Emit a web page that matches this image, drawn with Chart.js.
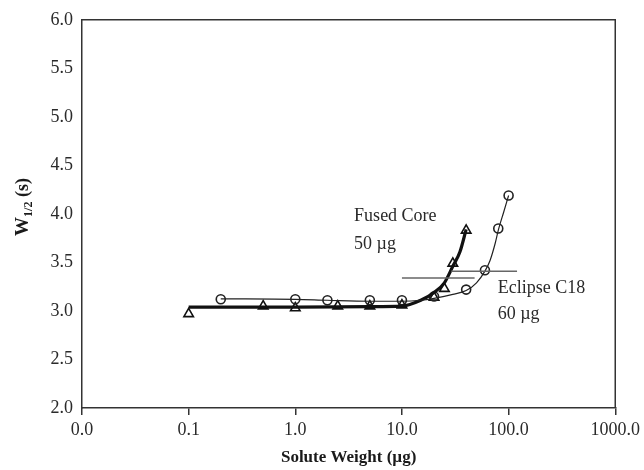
<!DOCTYPE html>
<html><head><meta charset="utf-8">
<script src="https://cdn.jsdelivr.net/npm/chart.js@4.4.1/dist/chart.umd.min.js"></script>
<style>html,body{margin:0;padding:0;background:#fff}#wrap{width:644px;height:470px}</style>
</head><body><div id="wrap"><canvas id="c" width="644" height="470"></canvas></div>
<script>
// ---- data ----
const xTickValues = [0.01, 0.1, 1, 10, 100, 1000];
const yMin = 2, yMax = 6, yStep = 0.5;

const eclipseX = [0.2, 1, 2, 5, 10, 20, 40, 60, 80, 100];
const eclipseY = [3.12, 3.12, 3.11, 3.11, 3.11, 3.15, 3.22, 3.42, 3.85, 4.19];

const fusedX = [0.1, 0.5, 1, 2.5, 5, 10, 20, 25, 30, 40];
const fusedY = [2.97, 3.05, 3.03, 3.05, 3.05, 3.06, 3.14, 3.23, 3.49, 3.83];

const eclipseFitX = [0.2, 1, 2, 5, 10, 15, 20, 30, 40, 50, 60, 67, 75, 80, 90, 100];
const eclipseFitY = [3.125, 3.12, 3.11, 3.10, 3.10, 3.11, 3.13, 3.17, 3.21, 3.29, 3.41, 3.52, 3.70, 3.83, 4.02, 4.19];

const fusedFitX = [0.1, 1, 5, 10, 15, 20, 25, 30, 35, 40];
const fusedFitY = [3.04, 3.04, 3.045, 3.05, 3.11, 3.19, 3.29, 3.46, 3.61, 3.84];

const limitFusedX = [10, 48];   const limitFusedY = [3.34, 3.34];
const limitEclipseX = [29, 120]; const limitEclipseY = [3.41, 3.41];

const annotations = [
  { text: 'Fused Core', x: 3.56, y: 3.98 },
  { text: '50 \u00b5g',  x: 3.56, y: 3.69 },
  { text: 'Eclipse C18', x: 79, y: 3.23 },
  { text: '60 \u00b5g',  x: 79, y: 2.97 }
];
const xTitle = 'Solute Weight (\u00b5g)';
const yTitleMain = 'W', yTitleSub = '1/2', yTitleRest = ' (s)';

// ---- build ----
const pts = (xs, ys) => xs.map((x, i) => ({ x: x, y: ys[i] }));
const FONT = '"Liberation Serif", "Times New Roman", serif';
const INK = '#2a2a2a';

const boxPlugin = {
  id: 'boxAndText',
  afterDraw(chart) {
    const { ctx, chartArea: a, scales } = chart;
    ctx.save();
    ctx.strokeStyle = '#333'; ctx.lineWidth = 1.5;
    ctx.beginPath();
    ctx.moveTo(a.left, a.top); ctx.lineTo(a.right, a.top); ctx.lineTo(a.right, a.bottom);
    ctx.stroke();
    // annotations
    ctx.fillStyle = INK; ctx.font = '18px ' + FONT;
    ctx.textAlign = 'left'; ctx.textBaseline = 'middle';
    annotations.forEach(t => {
      ctx.fillText(t.text, scales.x.getPixelForValue(t.x), scales.y.getPixelForValue(t.y));
    });
    // x title
    ctx.fillStyle = '#1a1a1a';
    ctx.font = 'bold 17px ' + FONT; ctx.textAlign = 'center';
    ctx.fillText(xTitle, (a.left + a.right) / 2, 458);
    // y title rotated
    ctx.translate(22, 207); ctx.rotate(-Math.PI / 2);
    ctx.font = 'bold 19px ' + FONT;
    const w1 = ctx.measureText(yTitleMain).width;
    ctx.font = 'bold 12px ' + FONT;
    const w2 = ctx.measureText(yTitleSub).width;
    ctx.font = 'bold 18px ' + FONT;
    const w3 = ctx.measureText(yTitleRest).width;
    let x0 = -(w1 + w2 + w3) / 2;
    ctx.textAlign = 'left'; ctx.textBaseline = 'alphabetic';
    ctx.font = 'bold 19px ' + FONT; ctx.fillText(yTitleMain, x0, 6);
    ctx.font = 'bold 12px ' + FONT; ctx.fillText(yTitleSub, x0 + w1, 10);
    ctx.font = 'bold 18px ' + FONT; ctx.fillText(yTitleRest, x0 + w1 + w2, 6);
    ctx.restore();
  }
};

new Chart(document.getElementById('c'), {
  type: 'scatter',
  data: {
    datasets: [
      { data: pts(limitFusedX, limitFusedY), showLine: true, borderColor: '#666', borderWidth: 1.5, pointRadius: 0 },
      { data: pts(limitEclipseX, limitEclipseY), showLine: true, borderColor: '#666', borderWidth: 1.5, pointRadius: 0 },
      { data: pts(eclipseFitX, eclipseFitY), showLine: true, borderColor: '#222', borderWidth: 1.2, pointRadius: 0, cubicInterpolationMode: 'monotone' },
      { data: pts(fusedFitX, fusedFitY), showLine: true, borderColor: '#111', borderWidth: 3.2, pointRadius: 0, cubicInterpolationMode: 'monotone' },
      { data: pts(eclipseX, eclipseY), showLine: false, pointStyle: 'circle', pointRadius: 4.5, borderColor: '#222', borderWidth: 1.6, backgroundColor: 'rgba(255,255,255,0)' },
      { data: pts(fusedX, fusedY), showLine: false, pointStyle: 'triangle', pointRadius: 5.5, borderColor: '#111', borderWidth: 1.6, backgroundColor: 'rgba(255,255,255,0)' }
    ]
  },
  options: {
    responsive: false, devicePixelRatio: 1, animation: false,
    layout: { padding: { top: 19, right: 27, left: 0, bottom: 0 } },
    plugins: { legend: { display: false }, tooltip: { enabled: false } },
    scales: {
      x: {
        type: 'logarithmic', min: 0.01, max: 1000,
        afterBuildTicks: s => { s.ticks = xTickValues.map(v => ({ value: v })); },
        afterFit: s => { s.height = 62; },
        ticks: { callback: v => Number(v).toFixed(1), font: { family: FONT, size: 18 }, color: INK, maxRotation: 0, autoSkip: false, padding: 4 },
        grid: { drawOnChartArea: false, drawTicks: true, tickLength: 7, color: '#333', lineWidth: 1.5 },
        border: { color: '#333', width: 1.5 }
      },
      y: {
        min: yMin, max: yMax,
        afterFit: s => { s.width = 82; },
        ticks: { stepSize: yStep, callback: v => Number(v).toFixed(1), font: { family: FONT, size: 18 }, color: INK, padding: 9 },
        grid: { drawOnChartArea: false, drawTicks: false },
        border: { color: '#333', width: 1.5 }
      }
    }
  },
  plugins: [boxPlugin]
});
</script></body></html>
